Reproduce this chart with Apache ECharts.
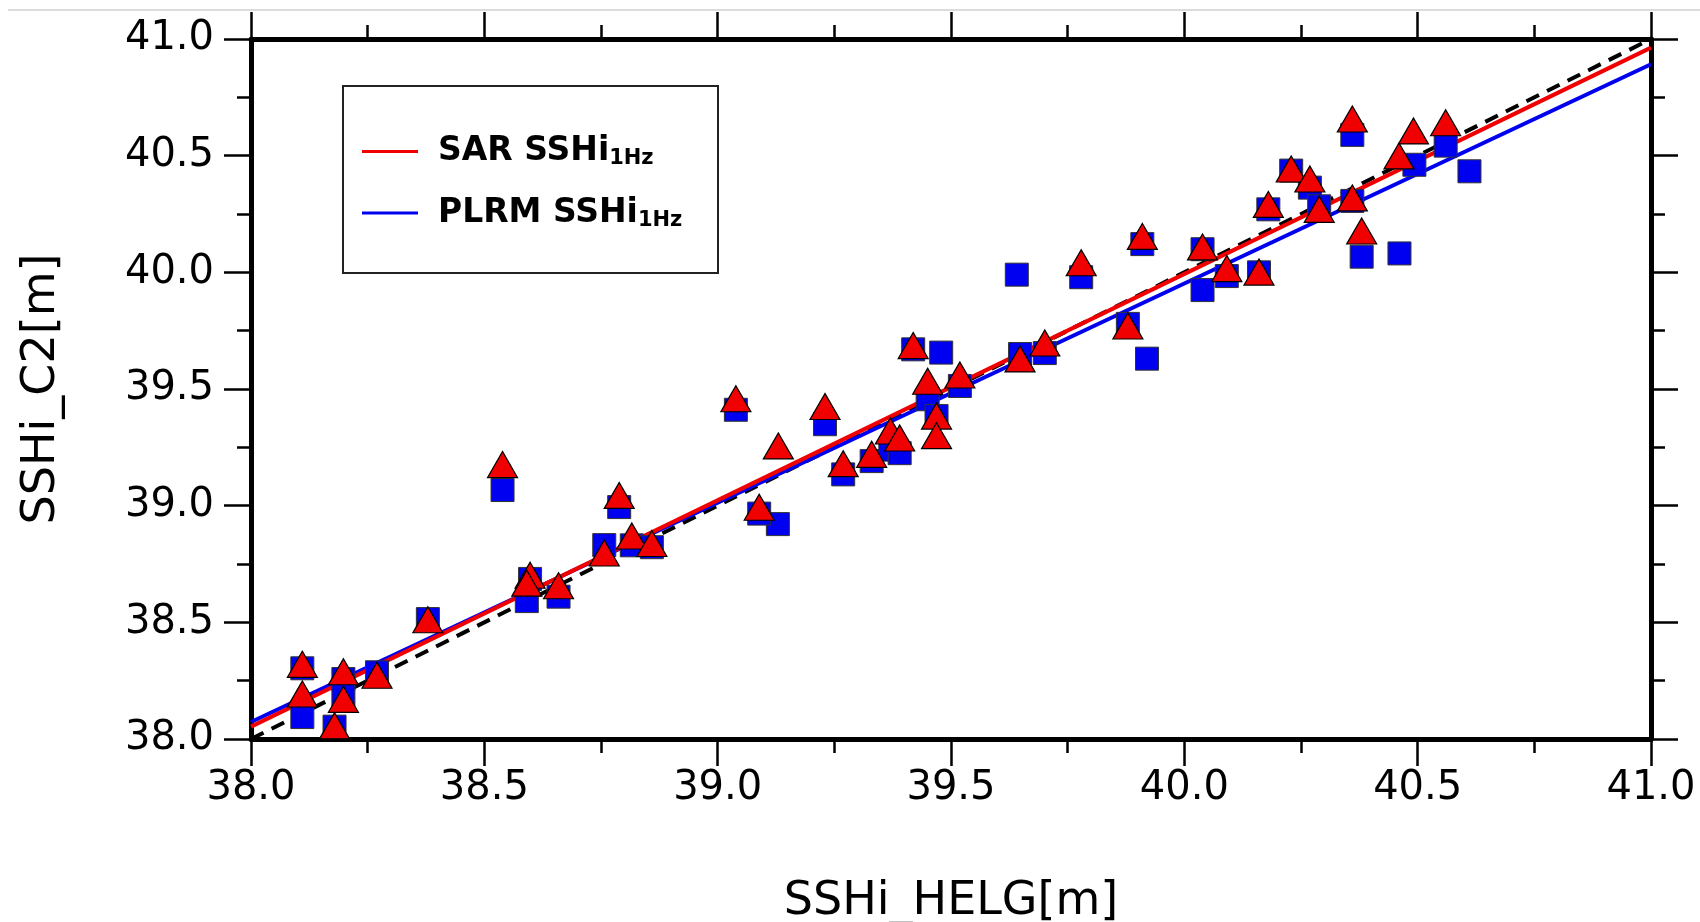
<!DOCTYPE html>
<html>
<head>
<meta charset="utf-8">
<script src="https://cdn.jsdelivr.net/npm/echarts@6/dist/echarts.min.js"></script>
<style>
html,body{margin:0;padding:0;background:#fff;}
#chart{width:1700px;height:922px;}
</style>
</head>
<body>
<div id="chart"></div>
<script>
// ---- data ----
const axisMin = 38.0;
const axisMax = 41.0;
const tickStep = 0.5;

// PLRM SSHi (blue squares)
const plrmX = [38.110,38.110,38.198,38.198,38.179,38.270,38.379,38.539,38.598,38.591,
               38.659,38.757,38.789,38.816,38.859,39.039,39.129,39.089,39.230,39.269,
               39.330,39.370,39.390,39.419,39.479,39.450,39.469,39.519,39.648,39.701,
               39.641,39.779,39.879,39.920,39.910,40.039,40.039,40.091,40.160,40.380,
               40.180,40.229,40.269,40.289,40.360,40.360,40.461,40.493,40.560,40.611];
const plrmY = [38.303,38.094,38.257,38.190,38.053,38.286,38.514,39.067,38.686,38.591,
               38.610,38.831,38.994,38.830,38.822,39.411,38.921,38.966,39.349,39.134,
               39.191,39.240,39.225,39.670,39.656,39.456,39.384,39.513,39.650,39.654,
               39.990,39.979,39.779,39.630,40.121,40.099,39.924,39.984,40.000,40.067,
               40.270,40.436,40.363,40.283,40.306,40.589,40.081,40.461,40.543,40.433];

// SAR SSHi (red triangles)
const sarX = [38.110,38.110,38.198,38.198,38.179,38.270,38.379,38.539,38.598,38.591,
              38.659,38.757,38.789,38.816,38.859,39.039,39.130,39.089,39.230,39.269,
              39.330,39.370,39.390,39.419,39.450,39.469,39.469,39.519,39.648,39.701,
              39.779,39.879,39.910,40.039,40.091,40.160,40.180,40.229,40.269,40.289,
              40.360,40.360,40.380,40.460,40.491,40.560];
const sarY = [38.320,38.193,38.288,38.170,38.057,38.273,38.511,39.176,38.702,38.668,
              38.657,38.797,39.044,38.870,38.838,39.458,39.256,38.993,39.425,39.180,
              39.220,39.320,39.290,39.686,39.533,39.384,39.300,39.560,39.629,39.697,
              40.041,39.770,40.154,40.109,40.016,40.001,40.291,40.443,40.400,40.270,
              40.319,40.657,40.177,40.499,40.606,40.641];

// fitted lines (end points) and the 1:1 line
const sarFitX  = [38.0, 41.0];
const sarFitY  = [38.053, 40.963];
const plrmFitX = [38.0, 41.0];
const plrmFitY = [38.073, 40.892];
const oneToOneX = [38.0, 41.0];
const oneToOneY = [38.0, 41.0];

const seriesNames = ['SAR SSHi', 'PLRM SSHi'];
const subscriptText = '1Hz';
const xTitle = 'SSHi_HELG[m]';
const yTitle = 'SSHi_C2[m]';

// ---- build ----
const zip = (a, b) => a.map((v, i) => [v, b[i]]);
const FONT = 'DejaVu Sans';
const BLUE = '#0000F0';
const RED = '#F00000';

function axisCommon(showLabel) {
  return {
    type: 'value',
    min: axisMin,
    max: axisMax,
    interval: tickStep,
    axisLine: { show: true, onZero: false, lineStyle: { color: '#000', width: 5 } },
    axisTick: { show: true, inside: false, length: 27, lineStyle: { color: '#000', width: 2.5 } },
    minorTick: { show: true, splitNumber: 2, length: 14, lineStyle: { color: '#000', width: 2.5 } },
    splitLine: { show: false },
    minorSplitLine: { show: false },
    axisLabel: {
      show: showLabel,
      color: '#000',
      fontFamily: FONT,
      fontSize: 40,
      formatter: v => v.toFixed(1)
    }
  };
}

const xBottom = Object.assign(axisCommon(true), {
  position: 'bottom',
  name: xTitle,
  nameLocation: 'middle',
  nameGap: 140,
  nameTextStyle: { color: '#000', fontFamily: FONT, fontSize: 46 }
});
xBottom.axisLabel.margin = 30;

const xTop = Object.assign(axisCommon(false), { position: 'top' });

const yLeft = Object.assign(axisCommon(true), {
  position: 'left',
  name: yTitle,
  nameLocation: 'middle',
  nameGap: 186,
  nameTextStyle: { color: '#000', fontFamily: FONT, fontSize: 46 }
});
yLeft.axisLabel.margin = 37;

const yRight = Object.assign(axisCommon(false), { position: 'right' });

const option = {
  backgroundColor: '#fff',
  animation: false,
  grid: { left: 251, top: 39, width: 1400, height: 700, containLabel: false, outerBoundsMode: 'none' },
  xAxis: [xBottom, xTop],
  yAxis: [yLeft, yRight],
  legend: {
    data: [{ name: seriesNames[0], icon: 'rect' }, { name: seriesNames[1], icon: 'rect' }],
    orient: 'vertical',
    left: 362,
    top: 135,
    padding: 0,
    itemWidth: 56,
    itemHeight: 3,
    itemGap: 27,
    selectedMode: false,
    formatter: name => '{m|' + name + '}{s|' + subscriptText + '}',
    textStyle: {
      color: '#000',
      rich: {
        m: { fontFamily: FONT, fontWeight: 'bold', fontSize: 33, color: '#000', lineHeight: 36, padding: [0, 0, 0, 15] },
        s: { fontFamily: FONT, fontWeight: 'bold', fontSize: 21, color: '#000', lineHeight: 10, verticalAlign: 'bottom' }
      }
    }
  },
  graphic: [
    { type: 'rect', shape: { x: 343, y: 86, width: 375, height: 187 },
      style: { fill: 'none', stroke: '#222', lineWidth: 2 }, z: 100 },
    { type: 'line', shape: { x1: 8, y1: 10, x2: 1700, y2: 10 },
      style: { stroke: '#d0d0d0', lineWidth: 1.5 }, z: 0 }
  ],
  series: [
    {
      name: '1:1', type: 'line', data: zip(oneToOneX, oneToOneY),
      symbol: 'none', silent: true, z: 2,
      lineStyle: { color: '#000', width: 4, type: [14, 9] }
    },
    {
      name: seriesNames[1], type: 'line', data: zip(plrmFitX, plrmFitY),
      symbol: 'none', silent: true, z: 3,
      itemStyle: { color: BLUE },
      lineStyle: { color: BLUE, width: 4 }
    },
    {
      name: seriesNames[0], type: 'line', data: zip(sarFitX, sarFitY),
      symbol: 'none', silent: true, z: 4,
      itemStyle: { color: RED },
      lineStyle: { color: RED, width: 4 }
    },
    {
      name: 'PLRM points', type: 'scatter', data: zip(plrmX, plrmY),
      symbol: 'rect', symbolSize: 23, z: 5,
      itemStyle: { color: BLUE, borderColor: '#333', borderWidth: 1, opacity: 1 }
    },
    {
      name: 'SAR points', type: 'scatter', data: zip(sarX, sarY),
      symbol: 'triangle', symbolSize: [30, 26], z: 6,
      itemStyle: { color: RED, borderColor: '#000', borderWidth: 1.2, opacity: 1 }
    }
  ]
};

const chart = echarts.init(document.getElementById('chart'), null, { renderer: 'canvas' });
chart.setOption(option);
</script>
</body>
</html>
